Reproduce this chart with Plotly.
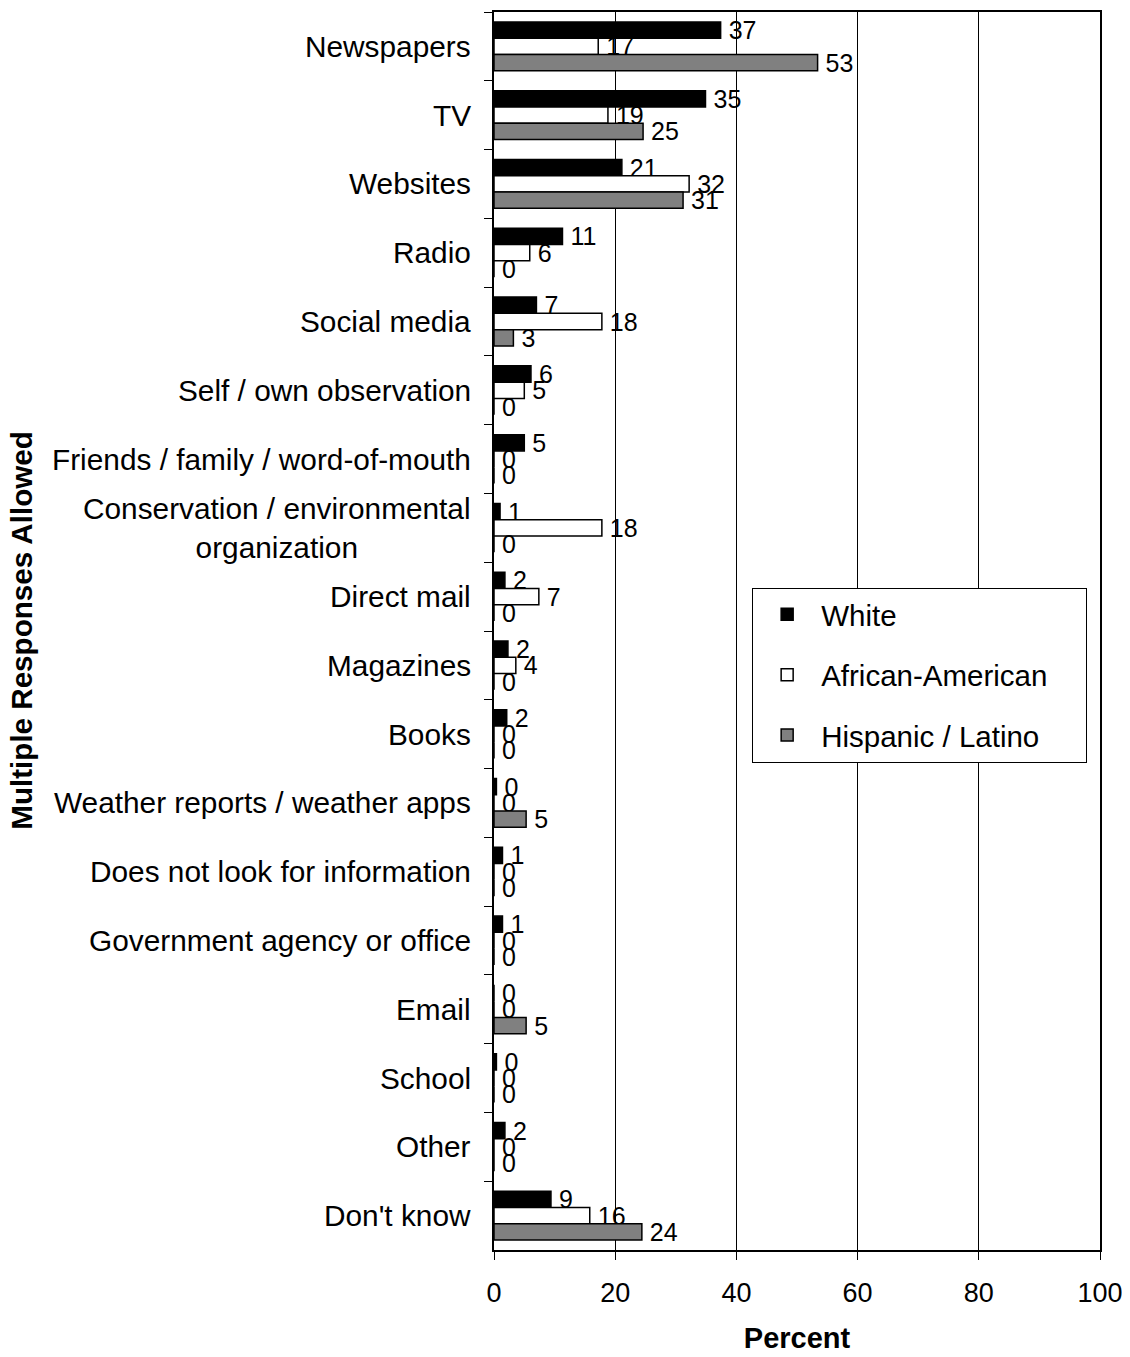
import plotly.graph_objects as go

categories = ["Newspapers", "TV", "Websites", "Radio", "Social media",
              "Self / own observation", "Friends / family / word-of-mouth",
              "Conservation / environmental<br>organization", "Direct mail",
              "Magazines", "Books", "Weather reports / weather apps",
              "Does not look for information", "Government agency or office",
              "Email", "School", "Other", "Don't know"]

white = [37.4, 34.9, 21.1, 11.3, 7.0, 6.1, 5.0, 1.0, 1.8, 2.3, 2.1, 0.4, 1.4, 1.4, 0, 0.4, 1.8, 9.4]
african_american = [17.2, 18.8, 32.2, 5.9, 17.8, 5.0, 0, 17.8, 7.4, 3.6, 0, 0, 0, 0, 0, 0, 0, 15.8]
hispanic = [53.4, 24.6, 31.2, 0, 3.2, 0, 0, 0, 0, 0, 0, 5.3, 0, 0, 5.3, 0, 0, 24.4]

series_names = ["White", "African-American", "Hispanic / Latino"]
series_values = [white, african_american, hispanic]
series_colors = ["#000000", "#ffffff", "#808080"]

x_ticks = [0, 20, 40, 60, 80, 100]

FONT = "Liberation Sans, Arial, sans-serif"
NBSP = "\u00a0"

fig = go.Figure()
for name, vals, col in zip(series_names, series_values, series_colors):
    fig.add_trace(go.Bar(
        y=categories, x=vals, name=name + NBSP * 4, orientation="h",
        marker=dict(color=col, line=dict(color="#000000", width=1.5)),
        texttemplate="\u2009%{x:.0f}", textposition="outside",
        textfont=dict(family=FONT, size=25, color="#000000"),
        constraintext="none", cliponaxis=False,
        legendgroup=name,
    ))

annotations = []
for c in categories:
    annotations.append(dict(
        x=0, xref="paper", y=c, yref="y", text=c, showarrow=False,
        xanchor="right", yanchor="middle", align="center", xshift=-21,
        font=dict(family=FONT, size=29.8, color="#000000")))
annotations.append(dict(
    x=-0.781, xref="paper", y=0.5, yref="paper", text="<b>Multiple Responses Allowed</b>",
    showarrow=False, textangle=-90, xanchor="center", yanchor="middle",
    font=dict(family=FONT, size=29.6, color="#000000")))

fig.update_layout(
    width=1130, height=1357,
    margin=dict(l=486, r=38, t=2, b=115),
    paper_bgcolor="white", plot_bgcolor="white",
    barmode="group", bargap=0.29, bargroupgap=0,
    font=dict(family=FONT, size=26, color="#000000"),
    showlegend=True,
    legend=dict(x=0.426, y=0.535, xanchor="left", yanchor="top",
                bordercolor="#000000", borderwidth=1, bgcolor="white",
                font=dict(family=FONT, size=29.5, color="#000000"),
                traceorder="grouped", tracegroupgap=19, itemwidth=58),
    annotations=annotations,
)
fig.update_xaxes(range=[0, 100], tickvals=x_ticks, ticks="outside", ticklen=8,
                 tickcolor="#000000", tickwidth=1, ticklabelstandoff=10,
                 showline=True, linecolor="#000000", linewidth=2, mirror=True,
                 showgrid=True, gridcolor="#000000", gridwidth=1, zeroline=False,
                 tickfont=dict(family=FONT, size=27),
                 title=dict(text="<b>Percent</b>", standoff=20,
                            font=dict(family=FONT, size=29)))
fig.update_yaxes(autorange="reversed", type="category", tickson="boundaries",
                 ticks="outside", ticklen=8, tickcolor="#000000",
                 showticklabels=False, showline=True, linecolor="#000000",
                 linewidth=2, mirror=True, showgrid=False)

fig.write_html("out.html")
